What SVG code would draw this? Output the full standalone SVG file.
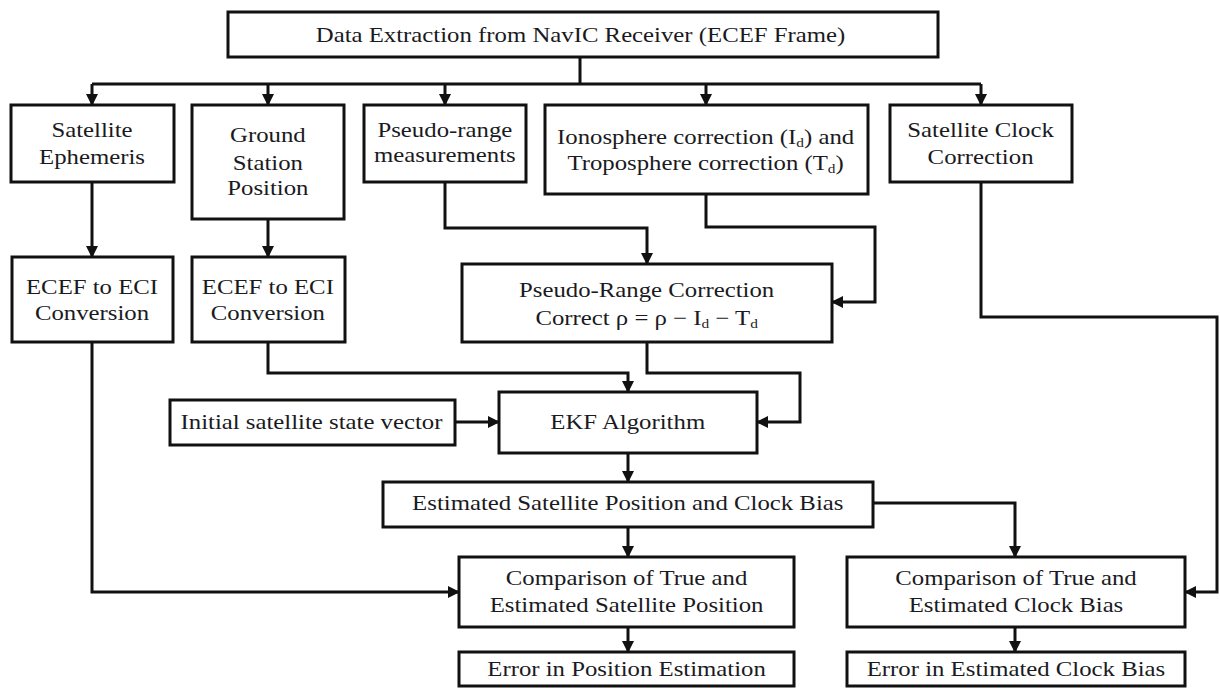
<svg xmlns="http://www.w3.org/2000/svg" width="1220" height="688" viewBox="0 0 1220 688">
<defs>
<style>
.box{fill:#fff;stroke:#111;stroke-width:3}
.t{font-family:"Liberation Serif","Times New Roman",serif;font-size:21px;fill:#1a1a22;text-anchor:middle}
.c{fill:none;stroke:#111;stroke-width:3}
.sub{font-size:13px}
</style>
<marker id="ah" markerUnits="userSpaceOnUse" markerWidth="12" markerHeight="12" viewBox="0 0 12 12" refX="11" refY="6" orient="auto">
<path d="M0,0 L12,6 L0,12 Z" fill="#111"/>
</marker>
</defs>
<rect width="1220" height="688" fill="#fff"/>
<g id="connectors">
<path class="c" d="M580,57 V84 M92,84 H981"/>
<path class="c" d="M92,84 V105" marker-end="url(#ah)"/>
<path class="c" d="M268,84 V105" marker-end="url(#ah)"/>
<path class="c" d="M445,84 V105" marker-end="url(#ah)"/>
<path class="c" d="M706,84 V105" marker-end="url(#ah)"/>
<path class="c" d="M981,84 V105" marker-end="url(#ah)"/>
<path class="c" d="M92,182 V257" marker-end="url(#ah)"/>
<path class="c" d="M268,219 V257" marker-end="url(#ah)"/>
<path class="c" d="M445,182 V228 H647 V264" marker-end="url(#ah)"/>
<path class="c" d="M706,194 V227 H875 V302 H832" marker-end="url(#ah)"/>
<path class="c" d="M981,182 V317 H1217 V592 H1185" marker-end="url(#ah)"/>
<path class="c" d="M268,342 V373 H628 V392" marker-end="url(#ah)"/>
<path class="c" d="M647,342 V373 H800 V422 H757" marker-end="url(#ah)"/>
<path class="c" d="M455,422 H499" marker-end="url(#ah)"/>
<path class="c" d="M628,453 V482" marker-end="url(#ah)"/>
<path class="c" d="M628,527 V557" marker-end="url(#ah)"/>
<path class="c" d="M873,503 H1015 V557" marker-end="url(#ah)"/>
<path class="c" d="M92,342 V592 H459" marker-end="url(#ah)"/>
<path class="c" d="M628,627 V652" marker-end="url(#ah)"/>
<path class="c" d="M1015,627 V652" marker-end="url(#ah)"/>
</g>
<g id="top"><rect class="box" x="228" y="12" width="710" height="45"/>
<text class="t" transform="scale(1.18 1)" x="492" y="42">Data Extraction from NavIC Receiver (ECEF Frame)</text></g>
<g id="satEph"><rect class="box" x="11" y="105" width="163" height="77"/>
<text class="t" transform="scale(1.18 1)" x="78" y="137">Satellite</text>
<text class="t" transform="scale(1.18 1)" x="78" y="164">Ephemeris</text></g>
<g id="ground"><rect class="box" x="192" y="105" width="152" height="114"/>
<text class="t" transform="scale(1.18 1)" x="227" y="142">Ground</text>
<text class="t" transform="scale(1.18 1)" x="227" y="170">Station</text>
<text class="t" transform="scale(1.18 1)" x="227" y="195">Position</text></g>
<g id="pseudo"><rect class="box" x="364" y="105" width="162" height="77"/>
<text class="t" transform="scale(1.18 1)" x="377" y="137">Pseudo-range</text>
<text class="t" transform="scale(1.18 1)" x="377" y="162">measurements</text></g>
<g id="iono"><rect class="box" x="545" y="105" width="323" height="89"/>
<text class="t" transform="scale(1.18 1)" x="598" y="144">Ionosphere correction (I<tspan class="sub" dy="3">d</tspan><tspan dy="-3">) and</tspan></text>
<text class="t" transform="scale(1.18 1)" x="598" y="170">Troposphere correction (T<tspan class="sub" dy="3">d</tspan><tspan dy="-3">)</tspan></text></g>
<g id="clock"><rect class="box" x="890" y="105" width="182" height="77"/>
<text class="t" transform="scale(1.18 1)" x="831" y="137">Satellite Clock</text>
<text class="t" transform="scale(1.18 1)" x="831" y="164">Correction</text></g>
<g id="ecef1"><rect class="box" x="12" y="257" width="161" height="85"/>
<text class="t" transform="scale(1.18 1)" x="78" y="294">ECEF to ECI</text>
<text class="t" transform="scale(1.18 1)" x="78" y="320">Conversion</text></g>
<g id="ecef2"><rect class="box" x="192" y="257" width="153" height="85"/>
<text class="t" transform="scale(1.18 1)" x="227" y="294">ECEF to ECI</text>
<text class="t" transform="scale(1.18 1)" x="227" y="320">Conversion</text></g>
<g id="prc"><rect class="box" x="462" y="264" width="370" height="78"/>
<text class="t" transform="scale(1.18 1)" x="548" y="297">Pseudo-Range Correction</text>
<text class="t" transform="scale(1.18 1)" x="548" y="325">Correct ρ = ρ − I<tspan class="sub" dy="3">d</tspan><tspan dy="-3"> − T</tspan><tspan class="sub" dy="3">d</tspan></text></g>
<g id="init"><rect class="box" x="170" y="400" width="285" height="45"/>
<text class="t" transform="scale(1.18 1)" x="264" y="429">Initial satellite state vector</text></g>
<g id="ekf"><rect class="box" x="499" y="392" width="258" height="61"/>
<text class="t" transform="scale(1.18 1)" x="532" y="429">EKF Algorithm</text></g>
<g id="est"><rect class="box" x="383" y="482" width="490" height="45"/>
<text class="t" transform="scale(1.18 1)" x="532" y="510">Estimated Satellite Position and Clock Bias</text></g>
<g id="cmpPos"><rect class="box" x="459" y="557" width="335" height="70"/>
<text class="t" transform="scale(1.18 1)" x="531" y="585">Comparison of True and</text>
<text class="t" transform="scale(1.18 1)" x="531" y="612">Estimated Satellite Position</text></g>
<g id="cmpClk"><rect class="box" x="847" y="557" width="338" height="70"/>
<text class="t" transform="scale(1.18 1)" x="861" y="585">Comparison of True and</text>
<text class="t" transform="scale(1.18 1)" x="861" y="612">Estimated Clock Bias</text></g>
<g id="errPos"><rect class="box" x="459" y="652" width="335" height="34"/>
<text class="t" transform="scale(1.18 1)" x="531" y="676">Error in Position Estimation</text></g>
<g id="errClk"><rect class="box" x="847" y="652" width="338" height="34"/>
<text class="t" transform="scale(1.18 1)" x="861" y="676">Error in Estimated Clock Bias</text></g>
</svg>
